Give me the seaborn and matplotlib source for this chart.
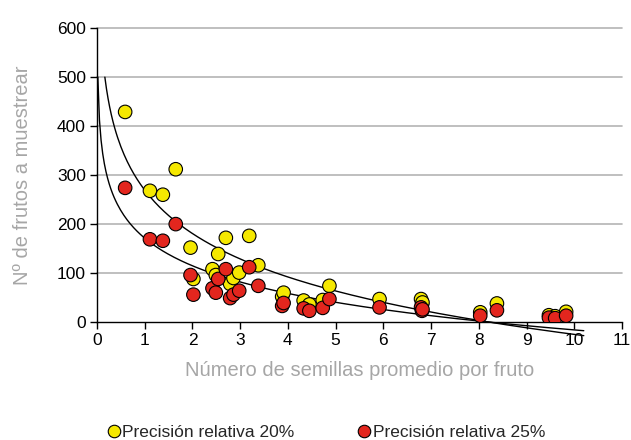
import numpy as np
import pandas as pd
import matplotlib
matplotlib.use("Agg")
import matplotlib.pyplot as plt
import seaborn as sns

# --- data ---
seeds = [0.59, 1.11, 1.38, 1.65, 1.96, 2.02, 2.42, 2.49, 2.54, 2.70, 2.79, 2.86,
         2.98, 3.19, 3.38, 3.88, 3.91, 4.33, 4.45, 4.73, 4.87, 5.92, 6.79, 6.81,
         6.82, 8.03, 8.38, 9.47, 9.60, 9.83]
frutos_20 = [429, 268, 260, 312, 152, 88, 108, 96, 139, 172, 78, 90,
             101, 176, 116, 52, 60, 44, 36, 45, 74, 47, 47, 36,
             40, 20, 38, 14, 12, 21]
frutos_25 = [274, 169, 166, 200, 96, 56, 69, 60, 88, 108, 49, 56,
             64, 112, 74, 33, 39, 28, 23, 29, 47, 30, 30, 23,
             26, 13, 24, 9, 8, 13]
labels = ["Precisión relativa 20%", "Precisión relativa 25%"]
colors = ["#F5E800", "#E3261E"]
xticks = list(range(0, 12))
yticks = list(range(0, 700, 100))

sns.set_theme(style="white")
plt.rcParams["font.family"] = ["Liberation Sans", "DejaVu Sans"]

fig = plt.figure(figsize=(6.31, 4.40), dpi=100)
ax = fig.add_axes([0.1537, 0.268, 0.832, 0.668])

for yv in yticks[1:]:
    ax.axhline(yv, color="#b4b4b4", lw=1.2, zorder=0)

# logarithmic trend lines (least-squares fit y = a + b ln x)
for series in (frutos_20, frutos_25):
    b, a = np.polyfit(np.log(seeds), series, 1)
    x0 = np.exp((500 - a) / b)
    grid = np.linspace(x0, 10.2, 300)
    sns.lineplot(x=grid, y=a + b * np.log(grid), ax=ax, color="black", lw=1.0,
                 zorder=2, legend=False)
for ln in ax.lines:
    ln.set_clip_on(False)

df = pd.DataFrame({
    "x": seeds * 2,
    "y": frutos_20 + frutos_25,
    "serie": [labels[0]] * len(seeds) + [labels[1]] * len(seeds),
})
sns.scatterplot(data=df, x="x", y="y", hue="serie", palette=colors, s=95,
                edgecolor="black", linewidth=0.8, ax=ax, zorder=3, legend=False)

ax.set_xlim(0, 11)
ax.set_ylim(0, 600)
ax.set_xticks(xticks)
ax.set_yticks(yticks)
ax.tick_params(axis="both", labelsize=12.5, colors="black", length=5, width=1,
               direction="out", left=True, bottom=True, pad=3)
for s in ["top", "right"]:
    ax.spines[s].set_visible(False)
for s in ["left", "bottom"]:
    ax.spines[s].set_color("black")
    ax.spines[s].set_linewidth(1.0)
ax.spines["left"].set_zorder(4)

ax.set_xlabel("Número de semillas promedio por fruto", fontsize=14.5,
              color="#a6a6a6", labelpad=9)
ax.set_ylabel("Nº de frutos a muestrear", fontsize=14.5, color="#a6a6a6",
              labelpad=18)

handles = [plt.Line2D([], [], marker="o", ls="", markersize=9,
                      markerfacecolor=c, markeredgecolor="black",
                      markeredgewidth=0.8) for c in colors]
fig.legend(handles, labels, loc="center", bbox_to_anchor=(0.515, 0.018),
           ncol=2, frameon=False, fontsize=12.5, handletextpad=0.0,
           columnspacing=3.5, handlelength=1.0)

fig.savefig("out.png", dpi=100)
